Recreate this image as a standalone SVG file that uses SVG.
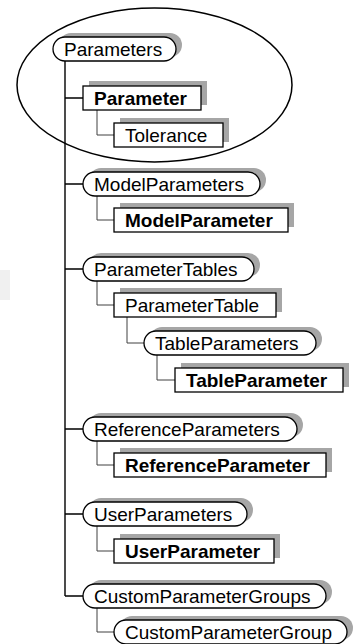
<svg xmlns="http://www.w3.org/2000/svg" width="363" height="644" viewBox="0 0 363 644">
<style>
.sh{fill:#a6a6a6;stroke:none}
.bx{fill:#fff;stroke:#000;stroke-width:1.3}
.t{font-family:"Liberation Sans",Arial,sans-serif;font-size:19px;fill:#000}
.b{font-weight:bold}
.main{fill:none;stroke:#000;stroke-width:1.4}
.sub{fill:none;stroke:#404040;stroke-width:1}
</style>
<rect x="0" y="270" width="10" height="30" fill="#f0f0f0"/>
<g id="connectors">
<path class="main" d="M65 61V596M65 98H83M65 184H83M65 269H83M65 429H83M65 514H83M65 596H83"/>
<path class="sub" d="M97 110V135H114M97 196V220H114M97 281V305H114M127 317V343H144M157 355V380H175M97 441V465H114M97 526V551H114M97 608V632H114"/>
</g>
<g id="Parameters"><rect class="sh" x="59" y="33" width="123" height="24" rx="12"/><rect class="bx" x="53" y="37" width="123" height="24" rx="12"/><text class="t" x="64" y="55.5">Parameters</text></g>
<g id="Parameter"><rect class="sh" x="89" y="81" width="118" height="24"/><rect class="bx" x="83" y="86" width="118" height="24"/><text class="t b" x="94" y="104.5">Parameter</text></g>
<g id="Tolerance"><rect class="sh" x="120" y="118" width="109" height="24"/><rect class="bx" x="114" y="123" width="109" height="24"/><text class="t" x="125" y="141.5">Tolerance</text></g>
<g id="ModelParameters"><rect class="sh" x="89" y="168" width="177" height="24" rx="12"/><rect class="bx" x="83" y="172" width="177" height="24" rx="12"/><text class="t" x="94" y="190.5">ModelParameters</text></g>
<g id="ModelParameter"><rect class="sh" x="120" y="203" width="174" height="24"/><rect class="bx" x="114" y="208" width="174" height="24"/><text class="t b" x="125" y="226.5">ModelParameter</text></g>
<g id="ParameterTables"><rect class="sh" x="89" y="253" width="171" height="24" rx="12"/><rect class="bx" x="83" y="257" width="171" height="24" rx="12"/><text class="t" x="94" y="275.5">ParameterTables</text></g>
<g id="ParameterTable"><rect class="sh" x="120" y="288" width="162" height="24"/><rect class="bx" x="114" y="293" width="162" height="24"/><text class="t" x="125" y="311.5">ParameterTable</text></g>
<g id="TableParameters"><rect class="sh" x="150" y="327" width="172" height="24" rx="12"/><rect class="bx" x="144" y="331" width="172" height="24" rx="12"/><text class="t" x="155" y="349.5">TableParameters</text></g>
<g id="TableParameter"><rect class="sh" x="181" y="363" width="168" height="24"/><rect class="bx" x="175" y="368" width="168" height="24"/><text class="t b" x="186" y="386.5">TableParameter</text></g>
<g id="ReferenceParameters"><rect class="sh" x="89" y="413" width="214" height="24" rx="12"/><rect class="bx" x="83" y="417" width="214" height="24" rx="12"/><text class="t" x="94" y="435.5">ReferenceParameters</text></g>
<g id="ReferenceParameter"><rect class="sh" x="120" y="448" width="212" height="24"/><rect class="bx" x="114" y="453" width="212" height="24"/><text class="t b" x="125" y="471.5">ReferenceParameter</text></g>
<g id="UserParameters"><rect class="sh" x="89" y="498" width="164" height="24" rx="12"/><rect class="bx" x="83" y="502" width="164" height="24" rx="12"/><text class="t" x="94" y="520.5">UserParameters</text></g>
<g id="UserParameter"><rect class="sh" x="120" y="534" width="160" height="24"/><rect class="bx" x="114" y="539" width="160" height="24"/><text class="t b" x="125" y="557.5">UserParameter</text></g>
<g id="CustomParameterGroups"><rect class="sh" x="89" y="580" width="243" height="24" rx="12"/><rect class="bx" x="83" y="584" width="243" height="24" rx="12"/><text class="t" x="94" y="602.5">CustomParameterGroups</text></g>
<g id="CustomParameterGroup"><rect class="sh" x="120" y="616" width="233" height="24" rx="12"/><rect class="bx" x="114" y="620" width="233" height="24" rx="12"/><text class="t" x="125" y="638.5">CustomParameterGroup</text></g>
<ellipse cx="154.5" cy="85" rx="137.5" ry="77" fill="none" stroke="#000" stroke-width="1.5"/>
</svg>
